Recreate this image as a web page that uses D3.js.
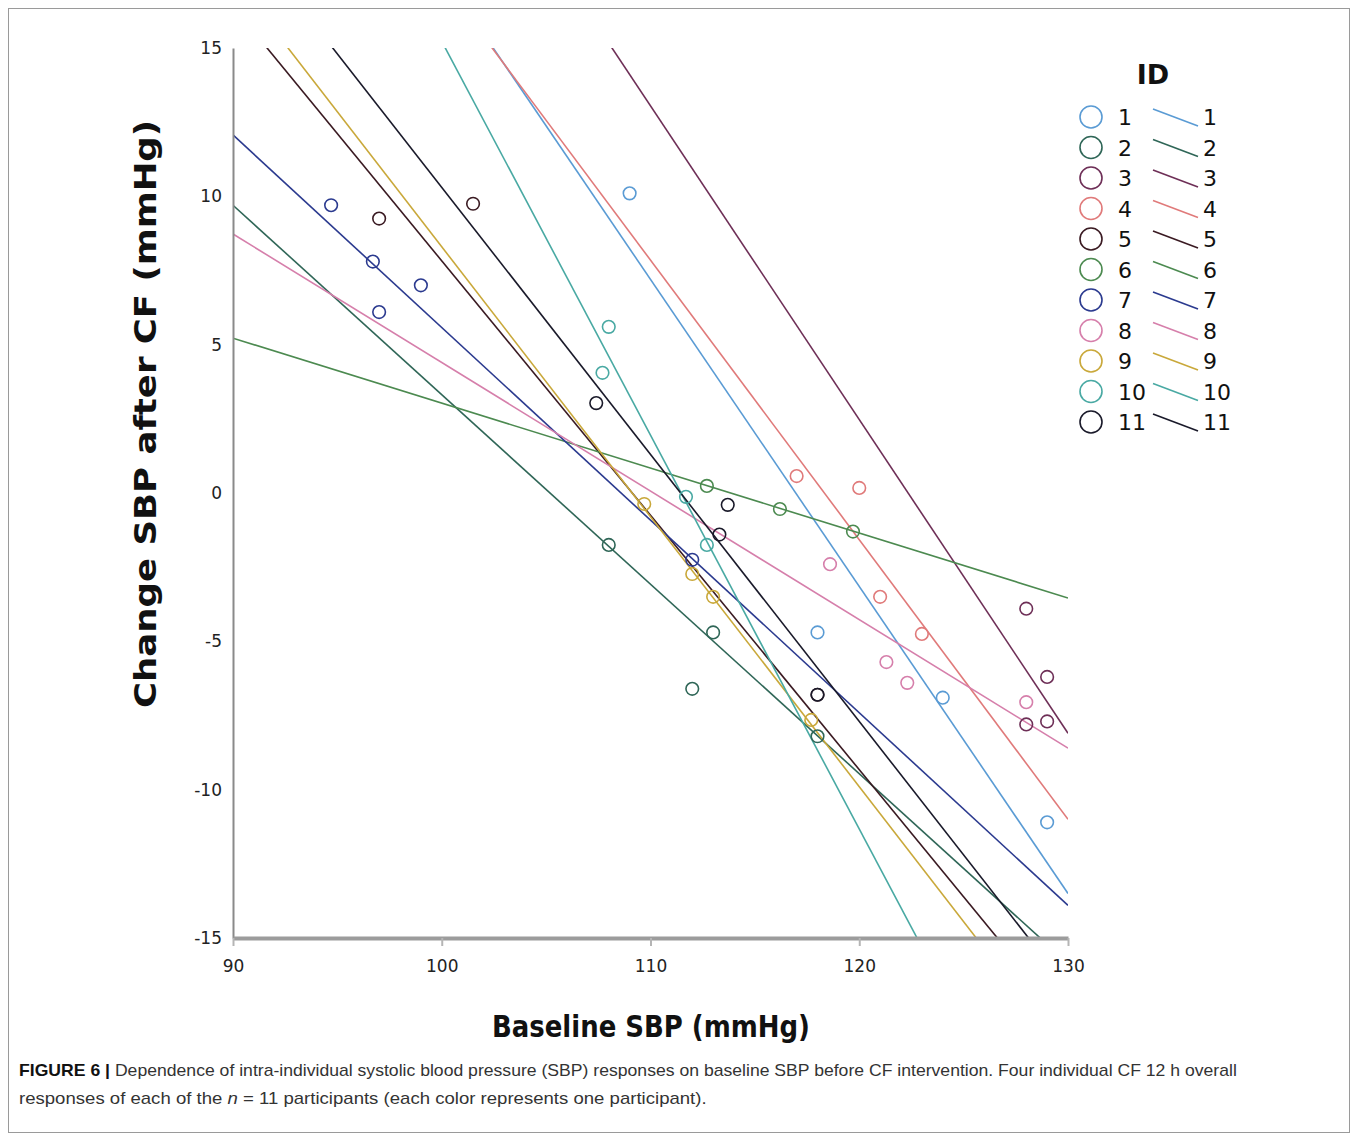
<!DOCTYPE html>
<html>
<head>
<meta charset="utf-8">
<script src="https://cdn.jsdelivr.net/npm/d3@7"></script>
<style>
  body { margin: 0; background: #fff; }
  svg { display: block; }
</style>
</head>
<body>
<svg id="chart" width="1358" height="1141"></svg>
<script>
// participant ids + colours
const ids = [1, 2, 3, 4, 5, 6, 7, 8, 9, 10, 11];
const colors = ['#5a9bd4', '#2f6657', '#6e2f57', '#e07a7a', '#3a1a22', '#4c8a50',
                '#2b3a8f', '#d67fab', '#c9a83a', '#49a9a3', '#1a1a2a'];

// observed responses (baseline SBP, change SBP) per participant
const baselineSBP = [
  [109.0, 118.0, 124.0, 129.0],
  [108.0, 113.0, 112.0, 118.0],
  [128.0, 128.0, 129.0, 129.0],
  [117.0, 120.0, 121.0, 123.0],
  [97.0, 101.5, 118.0],
  [112.7, 116.2, 119.7],
  [94.7, 96.7, 99.0, 97.0, 112.0],
  [118.6, 121.3, 122.3, 128.0],
  [109.7, 112.0, 113.0, 117.7],
  [108.0, 107.7, 111.7, 112.7],
  [107.4, 113.7, 113.3, 118.0]
];
const changeSBP = [
  [10.1, -4.7, -6.9, -11.1],
  [-1.75, -4.7, -6.6, -8.2],
  [-3.9, -7.8, -6.2, -7.7],
  [0.57, 0.17, -3.5, -4.75],
  [9.25, 9.75, -6.8],
  [0.24, -0.54, -1.3],
  [9.7, 7.8, 7.0, 6.1, -2.25],
  [-2.4, -5.7, -6.4, -7.05],
  [-0.37, -2.73, -3.5, -7.65],
  [5.6, 4.05, -0.13, -1.75],
  [3.03, -0.4, -1.4, -6.8]
];

// fitted lines: value at x = 90 and x = 130
const fitAt90  = [27.9, 9.7, 34.2, 26.7, 16.4, 5.22, 12.07, 8.73, 17.4, 28.5, 19.3];
const fitAt130 = [-13.5, -15.85, -8.1, -11.0, -17.9, -3.54, -13.9, -8.6, -19.0, -24.6, -16.7];

const xTicks = [90, 100, 110, 120, 130];
const yTicks = [-15, -10, -5, 0, 5, 10, 15];

const svg = d3.select('#chart');

// figure frame
svg.append('rect')
  .attr('x', 8.5).attr('y', 8.5)
  .attr('width', 1341).attr('height', 1124)
  .attr('fill', 'none')
  .attr('stroke', '#9a9a9a')
  .attr('stroke-width', 1);

const pLeft = 233, pRight = 1068, pTop = 48, pBottom = 938;

const x = d3.scaleLinear().domain([90, 130]).range([pLeft, pRight]);
const y = d3.scaleLinear().domain([-15, 15]).range([pBottom, pTop]);

svg.append('clipPath').attr('id', 'plotclip')
  .append('rect')
  .attr('x', pLeft).attr('y', pTop)
  .attr('width', pRight - pLeft).attr('height', pBottom - pTop);

// fit lines
const lines = svg.append('g').attr('clip-path', 'url(#plotclip)');
ids.forEach((id, i) => {
  lines.append('line')
    .attr('x1', x(90)).attr('y1', y(fitAt90[i]))
    .attr('x2', x(130)).attr('y2', y(fitAt130[i]))
    .attr('stroke', colors[i])
    .attr('stroke-width', 1.6);
});

// points
const pts = svg.append('g');
ids.forEach((id, i) => {
  baselineSBP[i].forEach((bx, j) => {
    pts.append('circle')
      .attr('cx', x(bx))
      .attr('cy', y(changeSBP[i][j]))
      .attr('r', 6.3)
      .attr('fill', 'none')
      .attr('stroke', colors[i])
      .attr('stroke-width', 1.6);
  });
});

// axes
const yAxis = svg.append('g')
  .attr('transform', `translate(${pLeft},0)`)
  .call(d3.axisLeft(y).tickValues(yTicks).tickSize(0).tickSizeOuter(0).tickPadding(11)
        .tickFormat(d => String(d)));
yAxis.select('.domain').attr('stroke', '#8a8a8a').attr('stroke-width', 2);
yAxis.selectAll('text')
  .attr('font-family', '"DejaVu Sans", sans-serif')
  .attr('font-size', 17)
  .attr('fill', '#222');

const xAxis = svg.append('g')
  .attr('transform', `translate(0,${pBottom})`)
  .call(d3.axisBottom(x).tickValues(xTicks).tickSize(8).tickSizeOuter(0).tickPadding(14));
xAxis.select('.domain').attr('stroke', '#9c9c9c').attr('stroke-width', 4);
xAxis.selectAll('.tick line').attr('stroke', '#b5b5b5').attr('stroke-width', 2);
xAxis.selectAll('text')
  .attr('font-family', '"DejaVu Sans", sans-serif')
  .attr('font-size', 17)
  .attr('fill', '#222');

// squeeze a text node horizontally to a given width
function fitWidth(sel, w) {
  sel.attr('textLength', w).attr('lengthAdjust', 'spacingAndGlyphs');
}

// axis titles
const xt = svg.append('text')
  .attr('x', 651).attr('y', 1037)
  .attr('text-anchor', 'middle')
  .attr('font-family', '"DejaVu Sans", sans-serif')
  .attr('font-weight', 'bold')
  .attr('font-size', 31)
  .attr('fill', '#111')
  .text('Baseline SBP (mmHg)');
fitWidth(xt, 318);

const yt = svg.append('text')
  .attr('transform', 'translate(156,414) rotate(-90)')
  .attr('text-anchor', 'middle')
  .attr('font-family', '"DejaVu Sans", sans-serif')
  .attr('font-weight', 'bold')
  .attr('font-size', 31)
  .attr('fill', '#111')
  .text('Change SBP after CF (mmHg)');
fitWidth(yt, 588);

// legend
const lg = svg.append('g');
lg.append('text')
  .attr('x', 1153).attr('y', 84)
  .attr('text-anchor', 'middle')
  .attr('font-family', '"DejaVu Sans", sans-serif')
  .attr('font-weight', 'bold')
  .attr('font-size', 27)
  .attr('fill', '#111')
  .text('ID');

const rowY = d3.scaleLinear().domain([0, 10]).range([117, 422]);
ids.forEach((id, i) => {
  const cy = rowY(i);
  lg.append('circle')
    .attr('cx', 1091).attr('cy', cy).attr('r', 11)
    .attr('fill', 'none').attr('stroke', colors[i]).attr('stroke-width', 1.6);
  lg.append('text')
    .attr('x', 1118).attr('y', cy + 8)
    .attr('font-family', '"DejaVu Sans", sans-serif')
    .attr('font-size', 22).attr('fill', '#111')
    .text(id);
  lg.append('line')
    .attr('x1', 1153).attr('y1', cy - 8)
    .attr('x2', 1198).attr('y2', cy + 9)
    .attr('stroke', colors[i]).attr('stroke-width', 1.6);
  lg.append('text')
    .attr('x', 1203).attr('y', cy + 8)
    .attr('font-family', '"DejaVu Sans", sans-serif')
    .attr('font-size', 22).attr('fill', '#111')
    .text(id);
});

// caption
const cap1 = svg.append('text')
  .attr('x', 19).attr('y', 1076)
  .attr('font-family', '"Liberation Sans", Arial, sans-serif')
  .attr('font-size', 16)
  .attr('fill', '#333');
cap1.append('tspan').attr('font-weight', 'bold').attr('fill', '#111').text('FIGURE 6 | ');
cap1.append('tspan').text('Dependence of intra-individual systolic blood pressure (SBP) responses on baseline SBP before CF intervention. Four individual CF 12 h overall');

const cap2 = svg.append('text')
  .attr('x', 19).attr('y', 1104)
  .attr('font-family', '"Liberation Sans", Arial, sans-serif')
  .attr('font-size', 16)
  .attr('fill', '#333');
cap2.append('tspan').text('responses of each of the ');
cap2.append('tspan').attr('font-style', 'italic').text('n');
cap2.append('tspan').text(' = 11 participants (each color represents one participant).');

// condense the caption lines to the reference widths
[[cap1, 1219], [cap2, 688]].forEach(([t, w]) => {
  const cur = t.node().getComputedTextLength();
  const k = w / cur;
  t.attr('transform', `translate(19,0) scale(${k},1) translate(-19,0)`);
});
</script>
</body>
</html>
